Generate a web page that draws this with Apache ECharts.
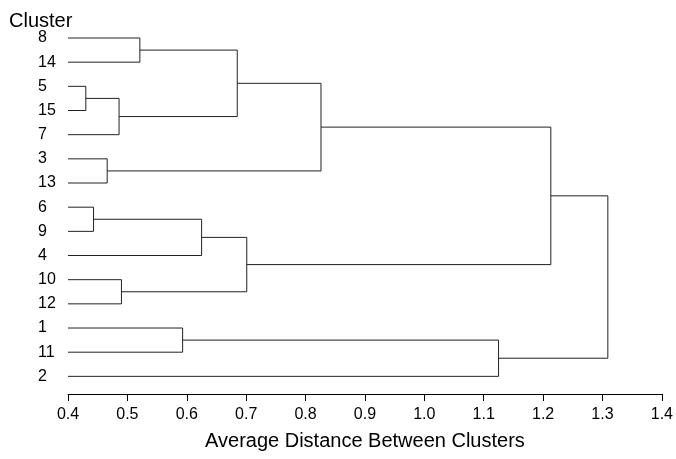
<!DOCTYPE html>
<html>
<head>
<meta charset="utf-8">
<script src="https://cdn.jsdelivr.net/npm/echarts@6/dist/echarts.min.js"></script>
<style>
  html, body { margin: 0; padding: 0; background: #fff; }
  #chart { width: 676px; height: 459px; }
</style>
</head>
<body>
<div id="chart"></div>
<script>
// 叶子顺序（自上而下）
const leaves = ['8', '14', '5', '15', '7', '3', '13', '6', '9', '4', '10', '12', '1', '11', '2'];
// 合并：[左子, 右子, 高度]，子节点为叶子名或 'm' + 合并序号
const merges = [
  ['5', '15', 0.430],
  ['6', '9', 0.443],
  ['3', '13', 0.466],
  ['m0', '7', 0.486],
  ['10', '12', 0.490],
  ['8', '14', 0.521],
  ['1', '11', 0.593],
  ['m1', '4', 0.625],
  ['m5', 'm3', 0.685],
  ['m7', 'm4', 0.701],
  ['m8', 'm2', 0.826],
  ['m6', '2', 1.125],
  ['m10', 'm9', 1.213],
  ['m12', 'm11', 1.309]
];
const xTicks = [0.4, 0.5, 0.6, 0.7, 0.8, 0.9, 1.0, 1.1, 1.2, 1.3, 1.4];

const FONT = "'Liberation Sans', Arial, sans-serif";

// 节点位置：叶子高度 = 轴最小值，y = 叶序号；合并节点 y 取两子均值
const pos = {};
leaves.forEach((l, i) => { pos[l] = { h: xTicks[0], y: i }; });
const segs = merges.map((m, k) => {
  const a = pos[m[0]], b = pos[m[1]];
  pos['m' + k] = { h: m[2], y: (a.y + b.y) / 2 };
  return [a.h, a.y, m[2], b.y, b.h];
});

const chart = echarts.init(document.getElementById('chart'));
chart.setOption({
  backgroundColor: '#fff',
  animation: false,
  title: {
    text: 'Cluster', left: 4, top: 6,
    textStyle: { fontFamily: FONT, fontSize: 20, fontWeight: 'normal', color: '#000' }
  },
  grid: { left: 68, right: 14, top: 38, bottom: 65 },
  xAxis: {
    type: 'value', position: 'bottom',
    min: xTicks[0], max: xTicks[xTicks.length - 1], interval: 0.1,
    name: 'Average Distance Between Clusters', nameLocation: 'middle', nameGap: 37,
    nameTextStyle: { fontFamily: FONT, fontSize: 20, color: '#000' },
    axisLine: { show: true, onZero: false, lineStyle: { color: '#000', width: 1 } },
    axisTick: { show: true, length: 7, lineStyle: { color: '#000' } },
    axisLabel: { fontFamily: FONT, fontSize: 16, color: '#000', margin: 13,
                 formatter: v => v.toFixed(1) },
    splitLine: { show: false }
  },
  yAxis: {
    type: 'value', inverse: true, min: 0, max: 14.73, interval: 1,
    axisLine: { show: false }, axisTick: { show: false }, splitLine: { show: false },
    axisLabel: {
      fontFamily: FONT, fontSize: 16, color: '#000', align: 'left', margin: 30,
      showMaxLabel: false,
      formatter: v => (Number.isInteger(v) && leaves[v] !== undefined ? leaves[v] : '')
    }
  },
  series: [{
    type: 'custom',
    data: segs,
    encode: { x: [0, 2, 4], y: [1, 3] },
    renderItem: function (params, api) {
      const p1 = api.coord([api.value(0), api.value(1)]);
      const p2 = api.coord([api.value(2), api.value(1)]);
      const p3 = api.coord([api.value(2), api.value(3)]);
      const p4 = api.coord([api.value(4), api.value(3)]);
      return {
        type: 'polyline',
        shape: { points: [p1, p2, p3, p4] },
        style: { stroke: '#222', lineWidth: 1, fill: null }
      };
    }
  }]
});
</script>
</body>
</html>
